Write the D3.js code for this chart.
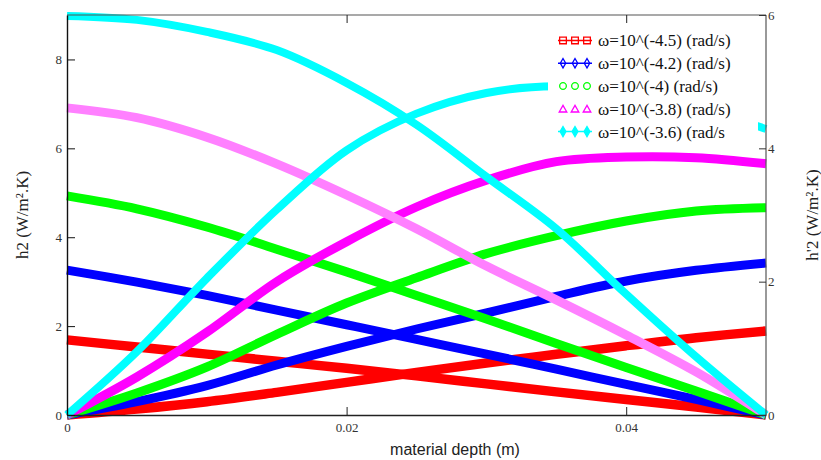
<!DOCTYPE html>
<html>
<head>
<meta charset="utf-8">
<script src="https://cdn.jsdelivr.net/npm/d3@7"></script>
<style>
  body { margin: 0; background: #fff; }
  svg { display: block; }
</style>
</head>
<body>
<svg width="821" height="460"></svg>
<script>
var width = 821;
var height = 460;
var serif = "Liberation Serif";
var sans = "Liberation Sans";

// material depth (m) sample points
var depth = [0, 0.005, 0.01, 0.015, 0.02, 0.025, 0.03, 0.035, 0.04, 0.045, 0.05];

// h2 (left axis) - falling curves
var h2Red   = [1.69, 1.53, 1.37, 1.21, 1.05, 0.88, 0.70, 0.52, 0.35, 0.18, 0];
var h2Blue  = [3.26, 2.99, 2.69, 2.36, 2.03, 1.70, 1.37, 1.03, 0.69, 0.35, 0];
var h2Green = [4.93, 4.64, 4.23, 3.73, 3.22, 2.69, 2.16, 1.61, 1.07, 0.54, 0];
var h2Pink  = [6.91, 6.69, 6.25, 5.65, 4.95, 4.19, 3.35, 2.59, 1.80, 0.97, 0];
var h2Cyan  = [8.98, 8.89, 8.62, 8.21, 7.47, 6.53, 5.36, 4.19, 2.72, 1.31, 0];

// h'2 (right axis) - rising curves
var hp2Red     = [0, 0.09, 0.20, 0.34, 0.49, 0.64, 0.78, 0.91, 1.04, 1.16, 1.26];
var hp2Blue    = [0, 0.20, 0.44, 0.75, 1.03, 1.29, 1.53, 1.78, 2.01, 2.17, 2.28];
var hp2Green   = [0, 0.33, 0.72, 1.21, 1.68, 2.06, 2.42, 2.69, 2.91, 3.06, 3.11];
var hp2Magenta = [0, 0.57, 1.24, 2.00, 2.60, 3.12, 3.52, 3.80, 3.87, 3.86, 3.77];
var hp2Cyan    = [0, 0.95, 2.05, 3.08, 3.97, 4.52, 4.83, 4.93, 4.85, 4.62, 4.29];

var xTicks = [0, 0.02, 0.04];
var leftTicks = [0, 2, 4, 6, 8];
var rightTicks = [0, 2, 4, 6];

var legendLabels = ["ω=10^(-4.5) (rad/s)", "ω=10^(-4.2) (rad/s)", "ω=10^(-4) (rad/s)",
                    "ω=10^(-3.8) (rad/s)", "ω=10^(-3.6) (rad/s"];

var margin = {left: 67, right: 55, top: 15, bottom: 45};
var x0 = margin.left, x1 = width - margin.right, y0 = height - margin.bottom, y1 = margin.top;

var xScale = d3.scaleLinear().domain([0, 0.05]).range([x0, x1]);
var yLeft = d3.scaleLinear().domain([0, 9]).range([y0, y1]);
var yRight = d3.scaleLinear().domain([0, 6]).range([y0, y1]);

var chart = d3.select('svg');

function zip(vals) {
    return depth.map(function (d, i) { return [d, vals[i]]; });
}

var leftLine = d3.line()
    .x(function (d) { return xScale(d[0]); })
    .y(function (d) { return yLeft(d[1]); })
    .curve(d3.curveCatmullRom.alpha(0.5));
var rightLine = d3.line()
    .x(function (d) { return xScale(d[0]); })
    .y(function (d) { return yRight(d[1]); })
    .curve(d3.curveCatmullRom.alpha(0.5));

// draw order: red, blue, green, magenta/pink, cyan
var series = [
    {vals: h2Red, axis: "left", color: "#ff0000", w: 9.5},
    {vals: hp2Red, axis: "right", color: "#ff0000", w: 9.5},
    {vals: h2Blue, axis: "left", color: "#0000ff", w: 9},
    {vals: hp2Blue, axis: "right", color: "#0000ff", w: 9},
    {vals: h2Green, axis: "left", color: "#00ff00", w: 9},
    {vals: hp2Green, axis: "right", color: "#00ff00", w: 9},
    {vals: hp2Magenta, axis: "right", color: "#ff00ff", w: 9},
    {vals: h2Pink, axis: "left", color: "#ff80ff", w: 9},
    {vals: hp2Cyan, axis: "right", color: "#00ffff", w: 8},
    {vals: h2Cyan, axis: "left", color: "#00ffff", w: 8}
];

chart.append("g").selectAll("path")
    .data(series)
    .enter()
    .append("path")
    .attr("fill", "none")
    .attr("stroke", function (s) { return s.color; })
    .attr("stroke-width", function (s) { return s.w; })
    .attr("d", function (s) {
        return s.axis == "left" ? leftLine(zip(s.vals)) : rightLine(zip(s.vals));
    });

// frame
chart.append("line").attr("x1", x0).attr("x2", x1).attr("y1", y1).attr("y2", y1)
    .attr("stroke", "#555").attr("stroke-width", 1.2);
chart.append("line").attr("x1", x1).attr("x2", x1).attr("y1", y1).attr("y2", y0)
    .attr("stroke", "#555").attr("stroke-width", 1.2);

// bottom axis
var xAxis = d3.axisBottom(xScale).tickValues(xTicks).tickSizeInner(-8).tickSizeOuter(0)
    .tickFormat(function (d) { return d === 0 ? "0" : d3.format(".2f")(d); });
var gx = chart.append("g").attr("transform", "translate(0," + y0 + ")").call(xAxis);
gx.select(".domain").attr("stroke", "#222").attr("stroke-width", 1.3);
gx.selectAll(".tick line").attr("stroke", "#222");
gx.selectAll(".tick text").attr("y", 8)
    .style("font-family", serif).style("font-size", "13px").attr("fill", "#333");

// top ticks
var xTop = d3.axisTop(xScale).tickValues(xTicks.slice(1)).tickSizeInner(-8).tickSizeOuter(0).tickFormat("");
var gxt = chart.append("g").attr("transform", "translate(0," + y1 + ")").call(xTop);
gxt.select(".domain").remove();
gxt.selectAll(".tick line").attr("stroke", "#222");

// left axis
var yAxisL = d3.axisLeft(yLeft).tickValues(leftTicks).tickSizeInner(-8).tickSizeOuter(0)
    .tickFormat(d3.format("d"));
var gl = chart.append("g").attr("transform", "translate(" + x0 + ",0)").call(yAxisL);
gl.select(".domain").attr("stroke", "#111").attr("stroke-width", 1.4);
gl.selectAll(".tick line").attr("stroke", "#111");
gl.selectAll(".tick text").attr("x", -5)
    .style("font-family", serif).style("font-size", "13px").attr("fill", "#333");

// right axis
var yAxisR = d3.axisRight(yRight).tickValues(rightTicks).tickSizeInner(-7).tickSizeOuter(0)
    .tickFormat(d3.format("d"));
var gr = chart.append("g").attr("transform", "translate(" + x1 + ",0)").call(yAxisR);
gr.select(".domain").remove();
gr.selectAll(".tick line").attr("stroke", "#333");
gr.selectAll(".tick text").attr("x", 2)
    .style("font-family", serif).style("font-size", "13px").attr("fill", "#333");

// axis titles
chart.append("text")
    .attr("transform", "translate(28," + ((y0 + y1) / 2) + ") rotate(-90)")
    .attr("text-anchor", "middle")
    .style("font-family", serif).style("font-size", "17px").attr("fill", "#222")
    .text("h2 (W/m².K)");
chart.append("text")
    .attr("transform", "translate(818," + ((y0 + y1) / 2) + ") rotate(-90)")
    .attr("text-anchor", "middle")
    .style("font-family", serif).style("font-size", "17px").attr("fill", "#222")
    .text("h'2 (W/m².K)");
chart.append("text")
    .attr("x", 455).attr("y", 455)
    .attr("text-anchor", "middle")
    .style("font-family", sans).style("font-size", "16px").attr("fill", "#222")
    .text("material depth (m)");

// legend
var legend = chart.append("g");
legend.append("rect")
    .attr("x", 548).attr("y", 24).attr("width", 210).attr("height", 120)
    .attr("fill", "#fff");

var legendColors = ["#ff0000", "#0000ff", "#00ff00", "#ff00ff", "#00ffff"];
var legendShapes = ["square", "diamond", "circle", "triangle", "fdiamond"];
var legendRowY = d3.scaleBand().domain(d3.range(5)).range([29, 143]);

var rows = legend.selectAll("g.row")
    .data(legendLabels)
    .enter()
    .append("g")
    .attr("class", "row")
    .attr("transform", function (d, i) { return "translate(0," + (legendRowY(i) + legendRowY.bandwidth() / 2) + ")"; });

rows.append("text")
    .attr("x", 598).attr("y", 6)
    .style("font-family", serif).style("font-size", "17px").attr("fill", "#111")
    .text(function (d) { return d; });

rows.each(function (d, i) {
    var g = d3.select(this);
    var c = legendColors[i];
    var shape = legendShapes[i];
    if (shape == "square" || shape == "diamond" || shape == "fdiamond") {
        g.append("line").attr("x1", 558).attr("x2", 592).attr("y1", 0).attr("y2", 0)
            .attr("stroke", c).attr("stroke-width", 1.5);
    }
    [563, 575, 587].forEach(function (mx) {
        var sym;
        if (shape == "square") sym = d3.symbol(d3.symbolSquare, 45);
        else if (shape == "circle") sym = d3.symbol(d3.symbolCircle, 35);
        else if (shape == "triangle") sym = d3.symbol(d3.symbolTriangle, 25);
        else if (shape == "fdiamond") sym = d3.symbol(d3.symbolDiamond, 30);
        else sym = d3.symbol(d3.symbolDiamond, 25);
        g.append("path")
            .attr("transform", "translate(" + mx + "," + (shape == "triangle" ? 1 : 0) + ")")
            .attr("d", sym())
            .attr("fill", shape == "fdiamond" ? c : "none")
            .attr("stroke", c)
            .attr("stroke-width", 1.3);
    });
});
</script>
</body>
</html>
